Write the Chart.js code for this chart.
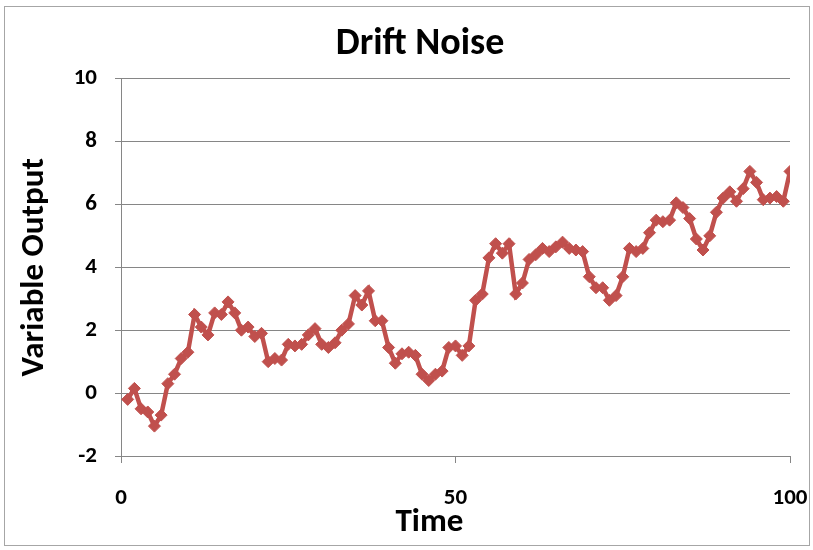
<!DOCTYPE html>
<html>
<head>
<meta charset="utf-8">
<script src="https://cdn.jsdelivr.net/npm/chart.js@4.4.0/dist/chart.umd.min.js"></script>
<style>
  body { margin: 0; background: #fff; }
  #wrap { position: relative; width: 813px; height: 550px; }
  #frame { position: absolute; left: 4px; top: 6px; width: 804px; height: 538px;
           border: 1px solid #a6a6a6; pointer-events: none; }
</style>
</head>
<body>
<div id="wrap">
  <canvas id="driftChart" width="813" height="550"></canvas>
  <div id="frame"></div>
</div>
<script>
// Time steps 1..100
const times = [];
for (let t = 1; t <= 100; t++) times.push(t);

// Variable output
const outputs = [
  -0.2, 0.15, -0.5, -0.6, -1.05, -0.7, 0.3, 0.6, 1.1, 1.3,
  2.5, 2.1, 1.85, 2.55, 2.5, 2.9, 2.55, 2.0, 2.1, 1.8,
  1.9, 1.0, 1.1, 1.05, 1.55, 1.5, 1.55, 1.85, 2.05, 1.55,
  1.45, 1.6, 2.0, 2.2, 3.1, 2.8, 3.25, 2.3, 2.3, 1.45,
  0.95, 1.25, 1.3, 1.2, 0.6, 0.4, 0.6, 0.7, 1.45, 1.5,
  1.2, 1.5, 2.95, 3.15, 4.3, 4.75, 4.45, 4.75, 3.15, 3.5,
  4.25, 4.4, 4.6, 4.5, 4.65, 4.8, 4.6, 4.55, 4.5, 3.7,
  3.35, 3.35, 2.95, 3.1, 3.7, 4.6, 4.5, 4.6, 5.1, 5.5,
  5.45, 5.5, 6.05, 5.9, 5.55, 4.9, 4.55, 5.0, 5.75, 6.2,
  6.4, 6.1, 6.5, 7.05, 6.7, 6.15, 6.2, 6.25, 6.1, 7.05
];

const xTicks = [0, 50, 100];
const yTicks = [-2, 0, 2, 4, 6, 8, 10];

const fontFamily = 'Carlito, "Liberation Sans Narrow", "Liberation Sans", sans-serif';
const gridColor = '#868686';

const ctx = document.getElementById('driftChart').getContext('2d');
const driftChart = new Chart(ctx, {
  type: 'line',
  data: {
    datasets: [{
      label: 'Drift Noise',
      data: times.map((t, i) => ({ x: t, y: outputs[i] })),
      borderColor: '#c0504d',
      backgroundColor: '#c0504d',
      borderWidth: 4.5,
      pointStyle: 'rectRot',
      pointRadius: 6,
      pointBorderWidth: 1,
      tension: 0
    }]
  },
  options: {
    responsive: false,
    animation: false,
    layout: { padding: { top: 10, left: 50, right: 23, bottom: 0 } },
    plugins: {
      legend: { display: false },
      tooltip: { enabled: false },
      title: {
        display: true,
        text: 'Drift Noise',
        color: '#000',
        font: { family: fontFamily, size: 38, weight: 'bold' },
        padding: { top: 12, bottom: 11 }
      }
    },
    scales: {
      x: {
        type: 'linear',
        min: xTicks[0],
        max: xTicks[xTicks.length - 1],
        afterBuildTicks: (scale) => { scale.ticks = xTicks.map(v => ({ value: v })); },
        afterFit: (scale) => {
          scale.height = 94;
          scale.paddingLeft = 0;
          scale.paddingRight = 0;
        },
        grid: { drawOnChartArea: false, drawTicks: true, tickLength: 7, color: gridColor },
        border: { display: true, color: gridColor },
        ticks: {
          color: '#000',
          padding: 21,
          maxRotation: 0,
          font: { family: fontFamily, size: 23, weight: 'bold' }
        },
        title: {
          display: true,
          // trailing spaces nudge the centred title left like the original
          text: 'Time       ',
          color: '#000',
          font: { family: fontFamily, size: 33, weight: 'bold' },
          padding: { top: 0, bottom: 7 }
        }
      },
      y: {
        min: yTicks[0],
        max: yTicks[yTicks.length - 1],
        afterBuildTicks: (scale) => { scale.ticks = yTicks.map(v => ({ value: v })); },
        afterFit: (scale) => { scale.width = 71; },
        grid: { color: gridColor, drawTicks: true, tickLength: 6 },
        border: { display: true, color: gridColor },
        ticks: {
          color: '#000',
          padding: 18,
          font: { family: fontFamily, size: 23, weight: 'bold' }
        },
        title: {
          display: true,
          text: 'Variable Output',
          color: '#000',
          font: { family: fontFamily, size: 33, weight: 'bold' },
          padding: { top: -35, bottom: 0 }
        }
      }
    }
  }
});
</script>
</body>
</html>
